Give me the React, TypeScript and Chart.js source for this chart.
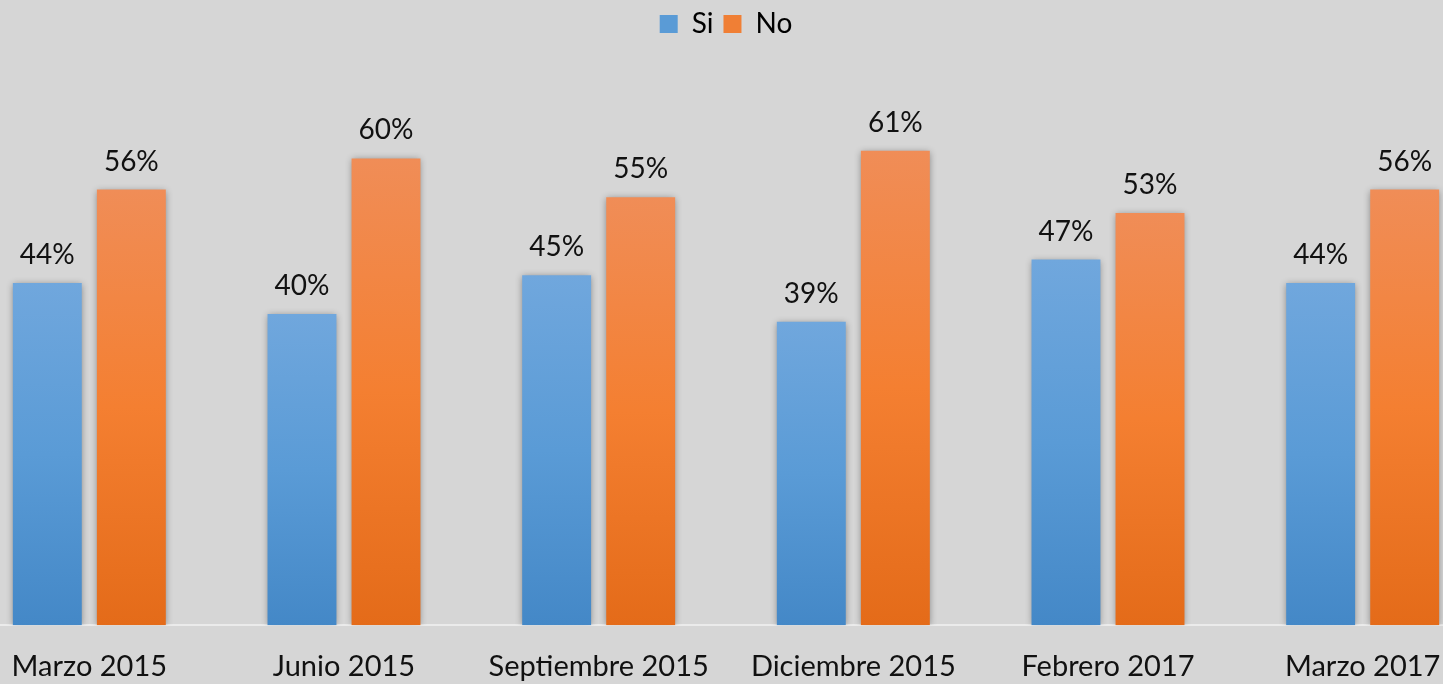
import React, { useEffect, useRef } from "react";
import { Chart, registerables } from "chart.js";

Chart.register(...registerables);

const categories = ["Marzo 2015", "Junio 2015", "Septiembre 2015", "Diciembre 2015", "Febrero 2017", "Marzo 2017"];
const siValues = [44, 40, 45, 39, 47, 44];
const noValues = [56, 60, 55, 61, 53, 56];
const seriesNames = ["Si", "No"];

const BLUE_TOP = "#70a7dd";
const BLUE_BOTTOM = "#4488c7";
const ORANGE_TOP = "#f08d57";
const ORANGE_BOTTOM = "#e46b19";
const FONT = "Lato, 'Open Sans', sans-serif";

function gradientFor(top: string, bottom: string, fallback: string) {
  return (ctx: any) => {
    const chart = ctx.chart;
    const y = chart.scales && chart.scales.y;
    if (!y || ctx.dataIndex === undefined || ctx.type !== "data") return fallback;
    const v = ctx.raw as number;
    const y0 = y.getPixelForValue(v);
    const y1 = y.getPixelForValue(0);
    if (!isFinite(y0) || !isFinite(y1) || y0 === y1) return fallback;
    const g = chart.ctx.createLinearGradient(0, y0, 0, y1);
    g.addColorStop(0, top);
    g.addColorStop(0.5, fallback);
    g.addColorStop(1, bottom);
    return g;
  };
}

const shadowPlugin = {
  id: "barShadow",
  beforeDatasetsDraw(chart: any) {
    const c = chart.ctx;
    c.save();
    c.shadowColor = "rgba(0,0,0,0.4)";
    c.shadowBlur = 7;
    c.shadowOffsetX = 0;
    c.shadowOffsetY = 1;
  },
  afterDatasetsDraw(chart: any) {
    chart.ctx.restore();
  },
};

const labelPlugin = {
  id: "valueLabels",
  afterDatasetsDraw(chart: any) {
    const c = chart.ctx;
    c.save();
    c.fillStyle = "#111";
    c.font = `28px ${FONT}`;
    c.textAlign = "center";
    c.textBaseline = "bottom";
    chart.data.datasets.forEach((ds: any, i: number) => {
      const meta = chart.getDatasetMeta(i);
      meta.data.forEach((el: any, j: number) => {
        c.fillText(`${ds.data[j]}%`, el.x, el.y - 14);
      });
    });
    c.restore();
  },
};

export default function App() {
  const ref = useRef<HTMLCanvasElement | null>(null);
  useEffect(() => {
    if (!ref.current) return;
    const chart = new Chart(ref.current, {
      type: "bar",
      data: {
        labels: categories,
        datasets: [
          {
            label: seriesNames[0],
            data: siValues,
            backgroundColor: gradientFor(BLUE_TOP, BLUE_BOTTOM, "#5a9bd6"),
            borderWidth: 0,
            barPercentage: 0.82,
            categoryPercentage: 0.66,
          },
          {
            label: seriesNames[1],
            data: noValues,
            backgroundColor: gradientFor(ORANGE_TOP, ORANGE_BOTTOM, "#f47f31"),
            borderWidth: 0,
            barPercentage: 0.82,
            categoryPercentage: 0.66,
          },
        ],
      },
      options: {
        responsive: false,
        animation: false,
        devicePixelRatio: 1,
        layout: { padding: { top: 0, left: 0, right: 0, bottom: 0 } },
        plugins: {
          tooltip: { enabled: false },
          legend: {
            position: "top",
            labels: {
              boxWidth: 18,
              boxHeight: 18,
              padding: 10,
              color: "#111",
              font: { family: FONT, size: 28 },
              generateLabels: () => [
                { text: seriesNames[0], fillStyle: "#5a9bd6", strokeStyle: "#5a9bd6", lineWidth: 0, datasetIndex: 0 },
                { text: seriesNames[1], fillStyle: "#f07f35", strokeStyle: "#f07f35", lineWidth: 0, datasetIndex: 1 },
              ],
            },
          },
        },
        scales: {
          x: {
            grid: { display: false, drawTicks: false },
            border: { display: true, color: "#ebebeb", width: 2 },
            ticks: { color: "#111", font: { family: FONT, size: 29 }, padding: 24, maxRotation: 0 },
          },
          y: {
            display: false,
            min: 0,
            max: 74.2,
          },
        },
      },
      plugins: [shadowPlugin, labelPlugin],
    });
    return () => chart.destroy();
  }, []);
  return (
    <div
      style={{
        position: "fixed",
        left: 0,
        top: 0,
        width: 1443,
        height: 684,
        overflow: "hidden",
        background: "#d6d6d6",
      }}
    >
      <canvas
        ref={ref}
        width={1528}
        height={708}
        style={{ position: "absolute", left: -38, top: 0, width: 1528, height: 708 }}
      />
    </div>
  );
}
